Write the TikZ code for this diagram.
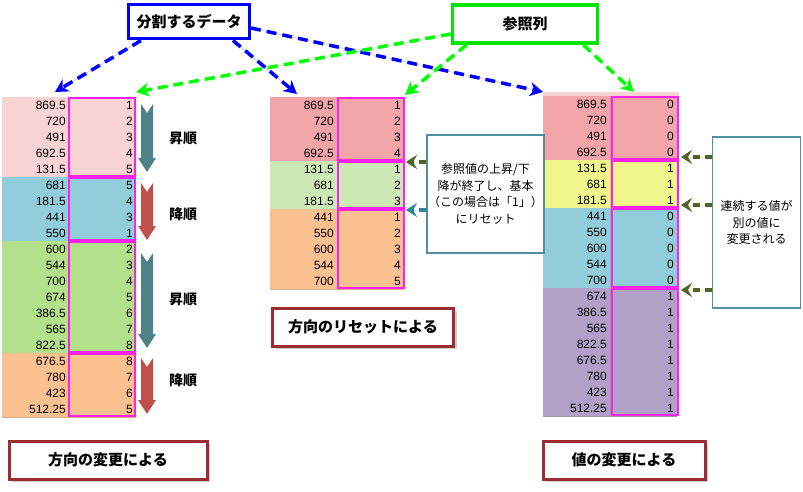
\documentclass[tikz,border=0pt]{standalone}
\usepackage{fontspec}
\setmainfont{Liberation Sans}
\newfontfamily\cjk{Noto Sans CJK JP}
\usetikzlibrary{arrows.meta,shadows}
\definecolor{cPk}{HTML}{F8D3D3}
\definecolor{cBl}{HTML}{92CDDC}
\definecolor{cGr}{HTML}{B3E08A}
\definecolor{cOr}{HTML}{FAC090}
\definecolor{cRd}{HTML}{F2A5A8}
\definecolor{cLg}{HTML}{CDE9B5}
\definecolor{cYl}{HTML}{F0F58C}
\definecolor{cPu}{HTML}{B1A0C7}
\definecolor{mag}{HTML}{FF22EE}
\definecolor{dgreen}{HTML}{4F6228}
\definecolor{teal2}{HTML}{31859C}
\definecolor{arTeal}{HTML}{4F8188}
\definecolor{arRed}{HTML}{C0504D}
\definecolor{boxRed}{HTML}{9B2D30}
\definecolor{callBd}{HTML}{4F8FA0}
\newcommand\mytable[4]{%
  \foreach \v/\r/\c [count=\i] in {#3} {
    \pgfmathsetmacro\yy{#2+(\i-1)*16}
    \fill[\c] (#1,\yy) rectangle ++(134,16);
    \draw[\c!70!gray,line width=0.5pt] (#1,\yy+16) -- ++(134,0);
    \draw[\c!70!gray,line width=0.5pt] (#1+67,\yy) -- ++(0,16);
    \node[cell,anchor=east] at (#1+64,\yy+8.5) {\v};
    \node[cell,anchor=east] at (#1+131,\yy+8.5) {\r};
  }
}
\newcommand\bigarrow[4]{% x, ytop, yend, color
  \fill[#4] (#1-6,#2) -- (#1,#2+9) -- (#1+6,#2) -- (#1+6,#3-14) -- (#1+9,#3-14)
    -- (#1,#3) -- (#1-9,#3-14) -- (#1-6,#3-14) -- cycle;
}
\begin{document}
\begin{tikzpicture}[x=1pt,y=-1pt,
  cell/.style={font=\fontsize{12}{13}\selectfont,inner sep=0pt},
  mbox/.style={draw=mag,line width=2pt},
  dashar/.style={line width=3.5pt,dash pattern=on 10pt off 6pt,-{Stealth[length=13pt,width=14pt,inset=4pt]}},
  callar/.style={line width=3.5pt,dash pattern=on 7pt off 5pt,-{Stealth[length=11pt,width=14pt,inset=4pt]}},
  lbl/.style={draw=boxRed,line width=3pt,fill=white,drop shadow={shadow xshift=3pt,shadow yshift=-3pt,opacity=0.4},font=\cjk\bfseries\fontsize{15}{17}\selectfont},
  call/.style={draw=callBd,line width=1.5pt,fill=white,font=\cjk\fontsize{12}{16.5}\selectfont,align=center,inner sep=1pt}]
\useasboundingbox[fill=white] (0,0) rectangle (803,492);
% left table
\mytable{2}{97}{869.5/1/cPk,720/2/cPk,491/3/cPk,692.5/4/cPk,131.5/5/cPk,
 681/5/cBl,181.5/4/cBl,441/3/cBl,550/1/cBl,
 600/2/cGr,544/3/cGr,700/4/cGr,674/5/cGr,386.5/6/cGr,565/7/cGr,822.5/8/cGr,
 676.5/8/cOr,780/7/cOr,423/6/cOr,512.25/5/cOr}
\draw[line width=0.8pt] (2,97) -- (2,417);
\foreach \a/\b in {97/177,177/241,241/353,353/417} \draw[mbox] (69,\a+1) rectangle (135,\b-1);
\bigarrow{147}{104}{172}{arTeal}
\bigarrow{147}{183}{240}{arRed}
\bigarrow{147}{253}{348}{arTeal}
\bigarrow{147}{358}{414}{arRed}
\node[font=\cjk\bfseries\fontsize{14}{15}\selectfont] (u1) at (183,138) {昇順};
\node[font=\cjk\bfseries\fontsize{14}{15}\selectfont] (d1) at (183,214) {降順};
\node[font=\cjk\bfseries\fontsize{14}{15}\selectfont] (u2) at (183,299) {昇順};
\node[font=\cjk\bfseries\fontsize{14}{15}\selectfont] (d2) at (183,380) {降順};
% middle table
\mytable{270}{97}{869.5/1/cRd,720/2/cRd,491/3/cRd,692.5/4/cRd,
 131.5/1/cLg,681/2/cLg,181.5/3/cLg,
 441/1/cOr,550/2/cOr,600/3/cOr,544/4/cOr,700/5/cOr}
\draw[line width=0.8pt] (270,97) -- (270,289);
\foreach \a/\b in {97/161,161/209,209/289} \draw[mbox] (338,\a+1) rectangle (404,\b-1);
% right table
\fill[cPk] (543,92) rectangle (679,96);
\mytable{543}{96}{869.5/0/cRd,720/0/cRd,491/0/cRd,692.5/0/cRd,
 131.5/1/cYl,681/1/cYl,181.5/1/cYl,
 441/0/cBl,550/0/cBl,600/0/cBl,544/0/cBl,700/0/cBl,
 674/1/cPu,386.5/1/cPu,565/1/cPu,822.5/1/cPu,676.5/1/cPu,780/1/cPu,423/1/cPu,512.25/1/cPu}
\draw[line width=0.8pt] (543,96) -- (543,416);
\foreach \a/\b in {96/160,160/208,208/288,288/416} \draw[mbox] (612,\a+1) rectangle (678,\b-1);
% target coordinates
\coordinate (tL1) at (55,92); \coordinate (tL2) at (136,92);
\coordinate (tM1) at (297,94); \coordinate (tM2) at (405,95);
\coordinate (tR1) at (543,92); \coordinate (tR2) at (634,92);
\coordinate (m1) at (406,162); \coordinate (m2) at (406,210);
\coordinate (r1) at (681,157); \coordinate (r2) at (681,205); \coordinate (r3) at (681,290);
% top boxes
\node[draw=blue,line width=3pt,minimum width=121pt,minimum height=34pt,font=\cjk\bfseries\fontsize{15}{17}\selectfont] (split) at (189,22) {分割するデータ};
\node[draw=green!90!black,line width=3.5pt,minimum width=145pt,minimum height=38pt,font=\cjk\bfseries\fontsize{15}{17}\selectfont] (ref) at (525,24) {参照列};
\draw[dashar,draw=blue,fill=blue] ([xshift=14pt]split.south west) -- (tL1);
\draw[dashar,draw=blue,fill=blue] ([xshift=-18pt]split.south east) -- (tM1);
\draw[dashar,draw=blue,fill=blue] ([yshift=-6pt]split.east) -- (tR1);
\draw[dashar,draw=green,fill=green] ([yshift=-10pt]ref.west) -- (tL2);
\draw[dashar,draw=green,fill=green] ([xshift=16pt]ref.south west) -- (tM2);
\draw[dashar,draw=green,fill=green] ([xshift=-16pt]ref.south east) -- (tR2);
% callouts
\node[call,minimum width=108pt,minimum height=118pt] (c1) at (485.5,194) {参照値の上昇/下\\降が終了し、基本\\（この場合は「1」）\\にリセット};
\draw[callar,draw=dgreen,fill=dgreen] (c1.west |- m1) -- (m1);
\draw[callar,draw=teal2,fill=teal2] (c1.west |- m2) -- (m2);
\node[call,minimum width=88pt,minimum height=171pt] (c2) at (756.5,222.5) {連続する値が\\別の値に\\変更される};
\draw[callar,draw=dgreen,fill=dgreen] (c2.west |- r1) -- (r1);
\draw[callar,draw=dgreen,fill=dgreen] (c2.west |- r2) -- (r2);
\draw[callar,draw=dgreen,fill=dgreen] (c2.west |- r3) -- (r3);
% labels
\node[lbl,minimum width=198pt,minimum height=38pt] (b1) at (108,460) {方向の変更による};
\node[lbl,minimum width=181pt,minimum height=38pt] (b2) at (363,327) {方向のリセットによる};
\node[lbl,minimum width=162pt,minimum height=38pt] (b3) at (624,460) {値の変更による};
\end{tikzpicture}
\end{document}
